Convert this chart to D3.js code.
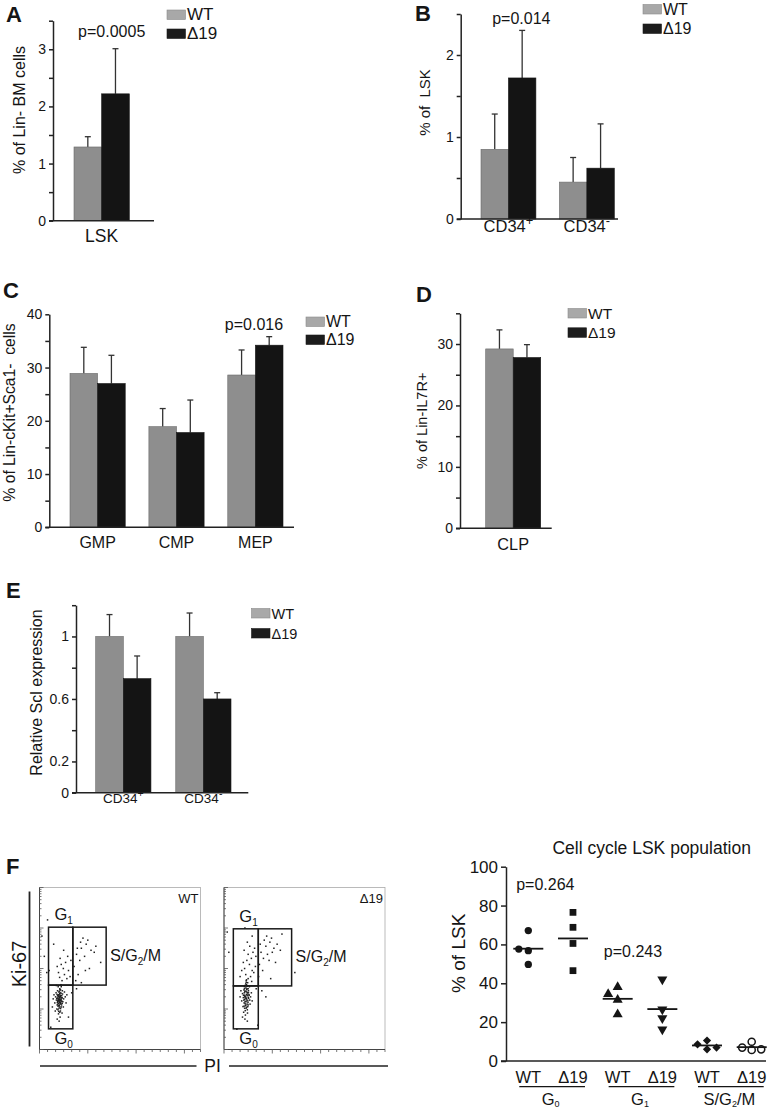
<!DOCTYPE html>
<html><head><meta charset="utf-8">
<script src="https://cdn.jsdelivr.net/npm/d3@7"></script>
<style>
body{margin:0;background:#fff;}
svg{display:block;font-family:"Liberation Sans",Arial,Helvetica,sans-serif;}
</style></head><body>
<svg id="fig" width="776" height="1112"></svg>
<script>
// ---------------- DATA ----------------
const series = ["WT", "Δ19"];

// Panel A
const catsA = ["LSK"];
const wtA = [1.29];   const wtErrA = [0.18];
const d19A = [2.22];  const d19ErrA = [0.79];
const ticksA = [0, 0.5, 1, 1.5, 2, 2.5, 3, 3.5];
const tickLabelsA = ["0", "", "1", "", "2", "", "3", ""];

// Panel B
const catsB = ["CD34+", "CD34-"];
const wtB = [0.85, 0.45];  const wtErrB = [0.43, 0.30];
const d19B = [1.72, 0.62]; const d19ErrB = [0.58, 0.54];
const ticksB = [0, 0.5, 1, 1.5, 2, 2.5];
const tickLabelsB = ["0", "", "1", "", "2", ""];

// Panel C
const catsC = ["GMP", "CMP", "MEP"];
const wtC = [28.9, 18.9, 28.6];  const wtErrC = [4.9, 3.4, 4.7];
const d19C = [27.0, 17.8, 34.2]; const d19ErrC = [5.3, 6.1, 1.6];
const ticksC = [0, 5, 10, 15, 20, 25, 30, 35, 40];
const tickLabelsC = ["0", "", "10", "", "20", "", "30", "", "40"];

// Panel D
const catsD = ["CLP"];
const wtD = [29.2];  const wtErrD = [3.1];
const d19D = [27.8]; const d19ErrD = [2.1];
const ticksD = [0, 5, 10, 15, 20, 25, 30, 35];
const tickLabelsD = ["0", "", "10", "", "20", "", "30", ""];

// Panel E
const catsE = ["CD34+", "CD34-"];
const wtE = [1.0, 1.0];    const wtErrE = [0.14, 0.15];
const d19E = [0.73, 0.60]; const d19ErrE = [0.145, 0.04];
const ticksE = [0, 0.2, 0.4, 0.6, 0.8, 1.0, 1.2];
const tickLabelsE = ["0", "0.2", "", "0.6", "", "1", ""];

// Panel F – flow cytometry (PI channel 0-1000, Ki-67 in log decades 0-4)
const wtFlowDots = [
 [125,1.20],[118,1.25],[132,1.15],[110,1.10],[140,1.28],[122,1.35],[105,1.22],[135,1.05],[128,1.40],[115,0.98],
 [145,1.18],[100,1.30],[138,1.33],[120,1.08],[112,1.45],[130,0.95],[150,1.25],[95,1.15],[126,1.50],[108,1.00],
 [142,1.45],[118,0.88],[160,1.30],[90,1.35],[135,1.55],[123,1.28],[113,1.18],[131,1.22],[127,1.12],[119,1.32],
 [137,1.10],[103,1.40],[148,1.05],[116,1.55],[85,1.25],[155,1.42],[128,0.80],[98,0.95],[165,1.15],[110,0.75],
 [140,0.90],[122,0.70],[170,1.35],[80,1.05],[133,1.60],[105,1.58],[124,1.16],[117,1.21],[129,1.31],[134,1.24],
 [121,1.02],[111,1.27],[143,1.37],[126,0.92],[109,1.36],[139,1.19],[114,1.12],[131,1.47],
 [124,1.23],[121,1.19],[127,1.26],[119,1.14],[129,1.17],[116,1.30],[133,1.29],[123,1.09],[117,1.24],[130,1.34],
 [114,1.21],[136,1.20],[125,1.38],[120,1.42],[132,1.13],[111,1.16],[126,1.05],[134,1.39],[118,1.35],[128,1.21],
 [122,1.31],[115,1.07],[139,1.27],[107,1.26],[124,1.44],[131,1.01],[119,0.94],[141,1.14],[113,1.33],[127,1.48],
 [140,1.70],[125,1.78],[155,1.85],[170,1.75],[118,1.90],[148,2.00],[180,1.95],[135,2.10],[162,2.15],[190,1.80],
 [128,2.25],[175,2.30],[110,2.05],[195,2.20],[150,2.45],[88,2.60],[60,1.95],
 [230,2.35],[260,2.50],[290,2.60],[250,2.20],[320,2.45],[280,2.30],[215,2.05],[300,2.70],[340,2.40],[240,1.85],
 [270,2.75],[225,1.70],[350,2.55],[380,2.15],[255,2.65],[310,2.00],[235,2.50],[285,1.95],
 [30,2.30],[45,1.90],[450,2.40],[200,1.40],[230,1.50],[15,2.80],[70,0.55],[260,1.65],[50,3.20],[180,0.80]
];
const d19FlowDots = [
 [140,1.25],[132,1.30],[148,1.20],[125,1.15],[155,1.35],[138,1.42],[120,1.28],[150,1.10],[143,1.50],[128,1.02],
 [160,1.22],[115,1.38],[152,1.45],[135,1.08],[127,1.55],[145,0.98],[165,1.30],[110,1.20],[140,1.60],[122,0.92],
 [158,1.55],[133,0.85],[170,1.40],[105,1.45],[147,1.65],[137,1.18],[129,1.24],[144,1.33],[151,1.29],[124,1.47],
 [136,1.52],[118,1.06],[162,1.12],[100,1.30],[175,1.20],[130,0.75],[115,0.80],[145,0.70],[139,1.36],[131,1.14],
 [146,1.41],[126,1.34],[141,1.04],[134,1.27],
 [139,1.27],[134,1.32],[142,1.22],[131,1.19],[146,1.37],[136,1.44],[128,1.30],[149,1.16],[141,1.48],[133,1.10],
 [153,1.26],[126,1.40],[144,1.56],[137,1.02],[130,1.58],[148,1.06],[156,1.34],[123,1.22],[138,1.66],[132,0.96],
 [143,1.12],[127,1.50],[152,1.40],[121,1.34],[146,0.90],[135,1.62],[140,1.72],[129,1.44],[150,1.50],[125,1.07],
 [150,1.75],[135,1.85],[165,1.80],[175,1.95],[128,2.00],[158,2.10],[185,1.90],[142,2.20],[170,2.25],[195,2.05],
 [120,2.15],[180,2.40],[150,2.35],[110,1.95],[160,2.55],[190,2.50],[138,1.70],[172,1.68],[125,2.45],[198,2.30],
 [100,1.80],[145,2.65],[130,3.00],[175,2.80],
 [230,2.40],[260,2.55],[285,2.65],[245,2.25],[310,2.50],[270,2.35],[220,2.10],[295,2.75],[330,2.60],[250,2.70],
 [280,2.20],[225,2.60],[350,2.45],[240,1.95],[300,2.40],[265,2.80],[320,2.15],[215,1.80],[290,1.75],[360,2.85],
 [30,2.40],[440,1.90],[200,1.50],[235,1.45],[20,2.90],[80,0.50],[260,1.30],[210,0.60]
];
// gates: [pi1, pi2, ki1, ki2]
const wtGates  = { G0: [56, 207, 0.51, 1.59], G1: [56, 207, 1.59, 3.02], S: [207, 414, 1.59, 3.02] };
const d19Gates = { G0: [58, 213, 0.51, 1.57], G1: [58, 213, 1.57, 2.98], S: [213, 420, 1.57, 2.98] };

// Panel F – cell cycle scatter
const cycleGroups = ["WT G0", "Δ19 G0", "WT G1", "Δ19 G1", "WT S", "Δ19 S"];
const cycleGenotypes = ["WT", "Δ19", "WT", "Δ19", "WT", "Δ19"];
const cyclePhases = ["G_0", "G_1", "S/G_2/M"];
const cycleValues = [
  [67.1, 56.8, 57.6, 49.7],
  [76.5, 68.8, 60.5, 46.5],
  [38.0, 31.5, 34.5, 24.0],
  [42.0, 26.6, 22.0, 16.3],
  [10.5, 6.0, 8.6, 6.9],
  [9.9, 6.9, 5.7, 6.0]
];
const cycleTicks = [0, 20, 40, 60, 80, 100];

// ---------------- DRAWING ----------------
const svg = d3.select("#fig");
const INK = "#151515";

function richText(sel, str, subSize, subDy) {
  // "_x" -> subscript x
  const parts = str.split(/_(.)/);
  let lowered = false;
  parts.forEach((p, i) => {
    if (p === "") return;
    if (i % 2 === 1) {
      sel.append("tspan").attr("font-size", subSize).attr("dy", subDy).text(p);
      lowered = true;
    } else {
      const t = sel.append("tspan").text(p);
      if (lowered) { t.attr("dy", -subDy); lowered = false; }
    }
  });
}

function catLabel(sel, str, supSize, supDy) {
  const m = str.match(/^(.*?)([+-])$/);
  if (m) {
    sel.append("tspan").text(m[1]);
    sel.append("tspan").attr("font-size", supSize).attr("dy", supDy).text(m[2]);
  } else sel.text(str);
}

function barPanel(o) {
  const g = svg.append("g");
  const y = d3.scaleLinear().domain([0, d3.max(o.ticks)]).range([o.y0, o.y1]);
  const x = d3.scaleBand().domain(o.cats).range(o.xr).paddingInner(o.pi).paddingOuter(0);
  const xs = d3.scaleBand().domain(series).range([0, x.bandwidth()]);
  const rows = o.cats.flatMap((c, i) => [
    { c, s: "WT", v: o.wt[i], e: o.wtErr[i] },
    { c, s: "Δ19", v: o.d19[i], e: o.d19Err[i] }
  ]);
  const cx = d => x(d.c) + xs(d.s) + xs.bandwidth() / 2;
  g.selectAll(null).data(rows).join("line")
    .attr("x1", cx).attr("x2", cx)
    .attr("y1", d => y(d.v)).attr("y2", d => y(d.v + d.e))
    .attr("stroke", "#333").attr("stroke-width", 1.3);
  g.selectAll(null).data(rows).join("line")
    .attr("x1", d => cx(d) - 3).attr("x2", d => cx(d) + 3)
    .attr("y1", d => y(d.v + d.e)).attr("y2", d => y(d.v + d.e))
    .attr("stroke", "#333").attr("stroke-width", 1.3);
  g.selectAll(null).data(rows).join("rect")
    .attr("x", d => x(d.c) + xs(d.s)).attr("width", xs.bandwidth())
    .attr("y", d => y(d.v)).attr("height", d => y(0) - y(d.v))
    .attr("fill", d => d.s === "WT" ? "#8e8e8e" : "#141414")
    .attr("stroke", d => d.s === "WT" ? "#6a6a6a" : "#141414").attr("stroke-width", 0.6);
  const ax = d3.axisLeft(y).tickValues(o.ticks).tickFormat((d, i) => o.labels[i])
    .tickSize(4).tickSizeOuter(0).tickPadding(3);
  const ag = g.append("g").attr("transform", `translate(${o.ax},0)`).call(ax);
  ag.selectAll("path,line").attr("stroke", "#222").attr("stroke-width", 1.5);
  ag.selectAll("text").attr("font-size", o.tickFs || 14).attr("fill", INK)
    .attr("font-family", "Liberation Sans, Arial, sans-serif");
  g.append("line").attr("x1", o.ax - 4).attr("x2", o.bx2)
    .attr("y1", y(0)).attr("y2", y(0)).attr("stroke", "#222").attr("stroke-width", 1.6);
  g.selectAll(null).data(o.cats).join("text")
    .attr("x", d => x(d) + x.bandwidth() / 2).attr("y", o.catY)
    .attr("text-anchor", "middle").attr("font-size", o.catFs).attr("fill", INK)
    .each(function (d) { catLabel(d3.select(this), d, o.catFs * 0.78, -o.catFs * 0.42); });
  g.append("text").attr("transform", `translate(${o.ylab[0]},${o.ylab[1]}) rotate(-90)`)
    .attr("text-anchor", "middle").attr("font-size", o.ylabFs).attr("fill", INK)
    .style("white-space", "pre").text(o.ylabel);
  if (o.p) g.append("text").attr("x", o.p[0]).attr("y", o.p[1]).attr("text-anchor", "middle")
    .attr("font-size", 16).attr("fill", INK).text(o.p[2]);
  g.append("text").attr("x", o.letter[0]).attr("y", o.letter[1]).attr("font-size", 22)
    .attr("font-weight", "bold").attr("fill", INK).text(o.letter[2]);
  legend(o.leg[0], o.leg[1], o.leg[2], o.leg[3]);
}

function legend(x, y, fs, step) {
  const g = svg.append("g");
  series.forEach((s, i) => {
    g.append("rect").attr("x", x).attr("y", y + i * step).attr("width", 18.5).attr("height", 9.5)
      .attr("fill", i === 0 ? "#a8a8a8" : "#1c1c1c").attr("stroke", i === 0 ? "#8a8a8a" : "#1c1c1c")
      .attr("stroke-width", 0.6);
    g.append("text").attr("x", x + 20).attr("y", y + i * step + 10).attr("font-size", fs)
      .attr("fill", INK).text(s);
  });
}

barPanel({ cats: catsA, wt: wtA, wtErr: wtErrA, d19: d19A, d19Err: d19ErrA, ticks: ticksA, labels: tickLabelsA,
  y0: 220.7, y1: 20.7, xr: [74, 129.3], pi: 0, ax: 53, bx2: 154, catY: 242, catFs: 17.5,
  ylab: [24.5, 110], ylabFs: 16, ylabel: "% of Lin- BM cells", p: [111.7, 36.7, "p=0.0005"],
  letter: [6, 21.7, "A"], leg: [167, 10, 17, 19] });

barPanel({ cats: catsB, wt: wtB, wtErr: wtErrB, d19: d19B, d19Err: d19ErrB, ticks: ticksB, labels: tickLabelsB,
  y0: 219, y1: 14, xr: [481, 614.3], pi: 0.3, ax: 460.7, bx2: 618, catY: 232, catFs: 16.5,
  ylab: [430, 102.5], ylabFs: 15, ylabel: "% of  LSK", p: [521.3, 23.5, "p=0.014"],
  letter: [415, 20.5, "B"], leg: [643, 4.5, 16, 19.5] });

barPanel({ cats: catsC, wt: wtC, wtErr: wtErrC, d19: d19C, d19Err: d19ErrC, ticks: ticksC, labels: tickLabelsC,
  y0: 527.3, y1: 314.3, xr: [70, 283], pi: 0.3, ax: 49.3, bx2: 294, catY: 548, catFs: 16,
  ylab: [15, 412.5], ylabFs: 15.7, ylabel: "% of Lin-cKit+Sca1-  cells", p: [254, 330, "p=0.016"],
  letter: [3, 298, "C"], leg: [306, 317, 16, 18] });

barPanel({ cats: catsD, wt: wtD, wtErr: wtErrD, d19: d19D, d19Err: d19ErrD, ticks: ticksD, labels: tickLabelsD,
  y0: 528.3, y1: 313.3, xr: [485.7, 540.7], pi: 0, ax: 460, bx2: 551.7, catY: 550, catFs: 16.3,
  ylab: [426.5, 420.8], ylabFs: 14.5, ylabel: "% of Lin-IL7R+", p: null,
  letter: [416, 301.7, "D"], leg: [568, 308.5, 15.5, 19.3] });

barPanel({ cats: catsE, wt: wtE, wtErr: wtErrE, d19: d19E, d19Err: d19ErrE, ticks: ticksE, labels: tickLabelsE,
  y0: 792.7, y1: 605.2, xr: [95.7, 231], pi: 0.31, ax: 76, bx2: 248.3, catY: 803, catFs: 13.5,
  ylab: [41.5, 692.5], ylabFs: 16, ylabel: "Relative Scl expression", p: null,
  letter: [6, 598, "E"], leg: [251.5, 608.5, 14.5, 20] });

// ---------- Panel F: flow plots ----------
function flowPlot(x0, y0, w, h, dots, gates, tag) {
  const g = svg.append("g");
  const xs = d3.scaleLinear().domain([0, 1000]).range([x0, x0 + w]);
  const ys = d3.scaleLinear().domain([0, 4]).range([y0 + h, y0]);
  g.append("rect").attr("x", x0).attr("y", y0).attr("width", w).attr("height", h)
    .attr("fill", "none").attr("stroke", "#aaa").attr("stroke-width", 0.8);
  g.append("line").attr("x1", x0).attr("x2", x0).attr("y1", y0).attr("y2", y0 + h).attr("stroke", "#444");
  g.append("line").attr("x1", x0).attr("x2", x0 + w).attr("y1", y0 + h).attr("y2", y0 + h).attr("stroke", "#444");
  const lt = [];
  for (let d = 0; d < 4; d++) for (let m = 1; m <= 9; m++) lt.push({ v: d + Math.log10(m), major: m === 1 });
  lt.push({ v: 4, major: true });
  g.selectAll(null).data(lt).join("line")
    .attr("x1", x0).attr("x2", d => x0 + (d.major ? 4 : 2))
    .attr("y1", d => ys(d.v)).attr("y2", d => ys(d.v)).attr("stroke", "#555").attr("stroke-width", 0.8);
  const bt = d3.range(0, 1001, 50);
  g.selectAll(null).data(bt).join("line")
    .attr("x1", d => xs(d)).attr("x2", d => xs(d))
    .attr("y1", y0 + h).attr("y2", d => y0 + h + (d % 300 === 0 ? 4 : 2.5))
    .attr("stroke", "#555").attr("stroke-width", 0.8);
  g.selectAll(null).data(dots).join("rect")
    .attr("x", d => xs(d[0]) - 0.75).attr("y", d => ys(d[1]) - 0.75)
    .attr("width", 1.5).attr("height", 1.5).attr("fill", "#222");
  Object.values(gates).forEach(b => {
    g.append("rect").attr("x", xs(b[0])).attr("y", ys(b[3]))
      .attr("width", xs(b[1]) - xs(b[0])).attr("height", ys(b[2]) - ys(b[3]))
      .attr("fill", "none").attr("stroke", "#1a1a1a").attr("stroke-width", 1.5);
  });
  const t1 = g.append("text").attr("x", xs(gates.G1[0]) + 6).attr("y", ys(gates.G1[3]) - 7)
    .attr("font-size", 16.5).attr("fill", INK); richText(t1, "G_1", 10, 4);
  const t0 = g.append("text").attr("x", xs(gates.G0[0]) + 6).attr("y", ys(gates.G0[2]) + 15)
    .attr("font-size", 16.5).attr("fill", INK); richText(t0, "G_0", 10, 4);
  const ts = g.append("text").attr("x", xs(gates.S[1]) + 4).attr("y", (ys(gates.S[2]) + ys(gates.S[3])) / 2 + 5)
    .attr("font-size", 16).attr("fill", INK); richText(ts, "S/G_2/M", 10, 4);
  g.append("text").attr("x", x0 + w - 2).attr("y", y0 + 15.5).attr("text-anchor", "end")
    .attr("font-size", 13).attr("fill", INK).text(tag);
}
flowPlot(39.5, 887.5, 161, 162, wtFlowDots, wtGates, "WT");
flowPlot(224, 887.5, 161, 162, d19FlowDots, d19Gates, "Δ19");

svg.append("text").attr("x", 6).attr("y", 874).attr("font-size", 22).attr("font-weight", "bold")
  .attr("fill", INK).text("F");
svg.append("line").attr("x1", 29.5).attr("x2", 29.5).attr("y1", 891.5).attr("y2", 1046.5)
  .attr("stroke", "#222").attr("stroke-width", 1.8);
svg.append("text").attr("transform", "translate(25.5,964) rotate(-90)").attr("text-anchor", "middle")
  .attr("font-size", 20).attr("fill", INK).text("Ki-67");
svg.append("line").attr("x1", 40).attr("x2", 196.5).attr("y1", 1066).attr("y2", 1066)
  .attr("stroke", "#222").attr("stroke-width", 1.4);
svg.append("line").attr("x1", 229).attr("x2", 388).attr("y1", 1066).attr("y2", 1066)
  .attr("stroke", "#222").attr("stroke-width", 1.4);
svg.append("text").attr("x", 212.5).attr("y", 1071.7).attr("text-anchor", "middle")
  .attr("font-size", 17.5).attr("fill", INK).text("PI");

// ---------- Panel F: cell cycle scatter ----------
(function () {
  const g = svg.append("g");
  const y = d3.scaleLinear().domain([0, 100]).range([1061, 866.7]);
  const x = d3.scalePoint().domain(cycleGroups).range([528.3, 751.7]);
  const ax = d3.axisLeft(y).tickValues(cycleTicks).tickSize(5).tickSizeOuter(0).tickPadding(3);
  const ag = g.append("g").attr("transform", "translate(506,0)").call(ax);
  ag.selectAll("path,line").attr("stroke", "#222").attr("stroke-width", 1.5);
  ag.selectAll("text").attr("font-size", 17).attr("fill", INK)
    .attr("font-family", "Liberation Sans, Arial, sans-serif");
  g.append("line").attr("x1", 501).attr("x2", 766).attr("y1", y(0)).attr("y2", y(0))
    .attr("stroke", "#222").attr("stroke-width", 1.6);

  const shapes = [
    { t: d3.symbolCircle, s: 42, fill: INK, rot: 0 },
    { t: d3.symbolSquare, s: 46, fill: INK, rot: 0 },
    { t: d3.symbolTriangle, s: 44, fill: INK, rot: 0 },
    { t: d3.symbolTriangle, s: 44, fill: INK, rot: 180 },
    { t: d3.symbolSquare, s: 34, fill: INK, rot: 45 },
    { t: d3.symbolCircle, s: 40, fill: "#fff", rot: 0, stroke: INK }
  ];
  cycleGroups.forEach((grp, gi) => {
    const vals = cycleValues[gi];
    const placed = [];
    const pts = vals.map(v => {
      const py = y(v);
      for (const k of [0, -1, 1, -2, 2]) {
        const px = k * 9.5;
        if (placed.every(p => Math.hypot(p.x - px, p.y - py) >= 8)) { placed.push({ x: px, y: py }); return { v, dx: px }; }
      }
      return { v, dx: 0 };
    });
    const sh = shapes[gi];
    g.selectAll(null).data(pts).join("path")
      .attr("d", d3.symbol().type(sh.t).size(sh.s))
      .attr("transform", d => `translate(${x(grp) + d.dx},${y(d.v)}) rotate(${sh.rot})`)
      .attr("fill", sh.fill).attr("stroke", sh.stroke || "none").attr("stroke-width", 1.5);
    const m = d3.mean(vals);
    g.append("line").attr("x1", x(grp) - 15).attr("x2", x(grp) + 15).attr("y1", y(m)).attr("y2", y(m))
      .attr("stroke", INK).attr("stroke-width", 1.8);
  });
  g.selectAll(null).data(cycleGroups).join("text")
    .attr("x", d => x(d)).attr("y", 1083.3).attr("text-anchor", "middle")
    .attr("font-size", 16.5).attr("fill", INK).text((d, i) => cycleGenotypes[i]);
  cyclePhases.forEach((ph, i) => {
    const a = x(cycleGroups[2 * i]), b = x(cycleGroups[2 * i + 1]);
    g.append("line").attr("x1", a - 9).attr("x2", b + 12).attr("y1", 1086.7).attr("y2", 1086.7)
      .attr("stroke", INK).attr("stroke-width", 1.3);
    const t = g.append("text").attr("x", (a + b) / 2).attr("y", 1104.5).attr("text-anchor", "middle")
      .attr("font-size", 16.5).attr("fill", INK);
    richText(t, ph, 9, 2.5);
  });
  g.append("text").attr("transform", "translate(465,953.3) rotate(-90)").attr("text-anchor", "middle")
    .attr("font-size", 19).attr("fill", INK).text("% of LSK");
  g.append("text").attr("x", 651.7).attr("y", 854).attr("text-anchor", "middle")
    .attr("font-size", 17.5).attr("fill", INK).text("Cell cycle LSK population");
  g.append("text").attr("x", 545.3).attr("y", 890).attr("text-anchor", "middle")
    .attr("font-size", 16).attr("fill", INK).text("p=0.264");
  g.append("text").attr("x", 633).attr("y", 956.5).attr("text-anchor", "middle")
    .attr("font-size", 16).attr("fill", INK).text("p=0.243");
})();
</script>
</body></html>
